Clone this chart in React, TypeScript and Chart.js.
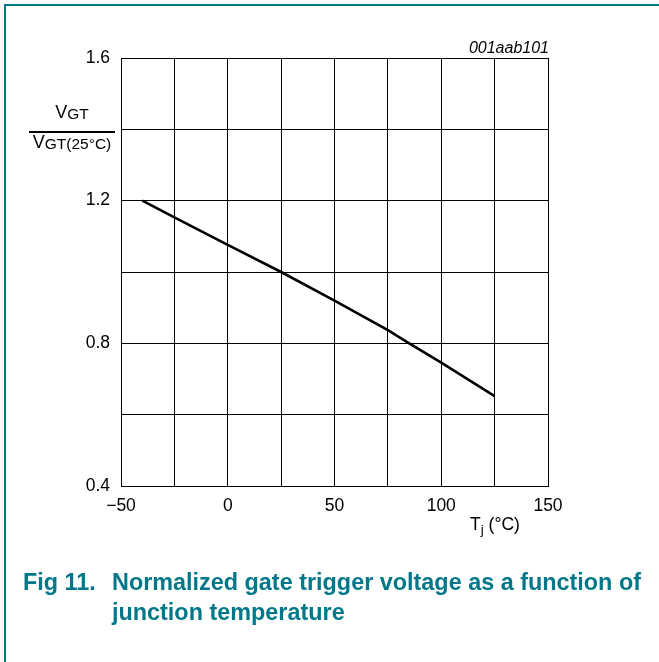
import React, { useEffect, useRef } from "react";
import { Chart, registerables } from "chart.js";

Chart.register(...registerables);

// Data
const tempC: number[] = [-40, -25, 0, 25, 50, 75, 85, 100, 125];
const vgtRatio: number[] = [1.2, 1.153, 1.076, 1.0, 0.92, 0.837, 0.8, 0.746, 0.652];

const xTicksLabelled: number[] = [-50, 0, 50, 100, 150];
const yTicksLabelled: string[] = ["0.4", "0.8", "1.2", "1.6"];

const TEAL = "#00788a";
const FONT = "'Liberation Sans', Arial, Helvetica, sans-serif";

export default function App() {
  const canvasRef = useRef<HTMLCanvasElement | null>(null);

  useEffect(() => {
    const canvas = canvasRef.current;
    if (!canvas) return;
    const chart = new Chart(canvas, {
      type: "scatter",
      data: {
        datasets: [
          {
            data: tempC.map((t, i) => ({ x: t, y: vgtRatio[i] })),
            showLine: true,
            borderColor: "#000",
            borderWidth: 2.6,
            pointRadius: 0,
            tension: 0,
          },
        ],
      },
      options: {
        responsive: false,
        animation: false,
        devicePixelRatio: 1,
        layout: { padding: { left: 0, top: 58, right: 111, bottom: 0 } },
        plugins: { legend: { display: false }, tooltip: { enabled: false } },
        scales: {
          x: {
            type: "linear",
            min: -50,
            max: 150,
            afterFit: (s: any) => {
              s.height = 176;
            },
            ticks: {
              stepSize: 25,
              autoSkip: false,
              maxRotation: 0,
              padding: 10,
              color: "#000",
              font: { family: FONT, size: 17.5 },
              callback: (v: any) =>
                xTicksLabelled.includes(Number(v)) ? String(v).replace("-", "\u2212") : "",
            },
            grid: { color: "#000", lineWidth: 1, drawTicks: false },
            border: { color: "#000", width: 1 },
          },
          y: {
            type: "linear",
            min: 0.4,
            max: 1.6,
            afterFit: (s: any) => {
              s.width = 121;
            },
            ticks: {
              stepSize: 0.2,
              autoSkip: false,
              padding: 11,
              color: "#000",
              font: { family: FONT, size: 17.5 },
              callback: (v: any) => {
                const s = Number(v).toFixed(1);
                return yTicksLabelled.includes(s) ? s : "";
              },
            },
            grid: { color: "#000", lineWidth: 1, drawTicks: false },
            border: { color: "#000", width: 1 },
          },
        },
      },
    });
    return () => chart.destroy();
  }, []);

  const abs = (o: React.CSSProperties): React.CSSProperties => ({
    position: "absolute",
    whiteSpace: "nowrap",
    lineHeight: 1,
    margin: 0,
    ...o,
  });

  return (
    <div
      style={{
        position: "fixed",
        left: 0,
        top: 0,
        width: 659,
        height: 662,
        background: "#fff",
        fontFamily: FONT,
        overflow: "hidden",
      }}
    >
      <canvas ref={canvasRef} width={659} height={662} style={{ position: "absolute", left: 0, top: 0 }} />

      {/* frame */}
      <div style={{ position: "absolute", left: 4, top: 4, width: 2, height: 658, background: TEAL }} />
      <div style={{ position: "absolute", left: 4, top: 4, width: 655, height: 2, background: TEAL }} />

      {/* code */}
      <div style={abs({ right: 659 - 549, top: 39.5, fontSize: 16, fontStyle: "italic", color: "#000" })}>
        001aab101
      </div>

      {/* y axis title as fraction */}
      <div style={abs({ left: 29, top: 103, width: 86, textAlign: "center", color: "#000", fontSize: 18 })}>
        <span style={{ fontSize: 18 }}>V</span>
        <span style={{ fontSize: 15.5, position: "relative", top: 1 }}>GT</span>
      </div>
      <div style={{ position: "absolute", left: 29, top: 131, width: 86, height: 1.5, background: "#000" }} />
      <div style={abs({ left: 29, top: 133, width: 86, textAlign: "center", color: "#000", fontSize: 18 })}>
        <span style={{ fontSize: 18 }}>V</span>
        <span style={{ fontSize: 15.5, position: "relative", top: 1 }}>GT(25°C)</span>
      </div>

      {/* x axis title */}
      <div style={abs({ left: 470, top: 516, fontSize: 17.5, color: "#000" })}>
        T<span style={{ fontSize: 13.5, position: "relative", top: 4 }}>j</span> (°C)
      </div>

      {/* caption */}
      <div style={abs({ left: 23, top: 571.2, fontSize: 23.4, fontWeight: "bold", color: TEAL })}>Fig 11.</div>
      <div style={abs({ left: 112, top: 571.2, fontSize: 23.4, fontWeight: "bold", color: TEAL })}>
        Normalized gate trigger voltage as a function of
      </div>
      <div style={abs({ left: 112, top: 601.2, fontSize: 23.4, fontWeight: "bold", color: TEAL })}>
        junction temperature
      </div>
    </div>
  );
}
